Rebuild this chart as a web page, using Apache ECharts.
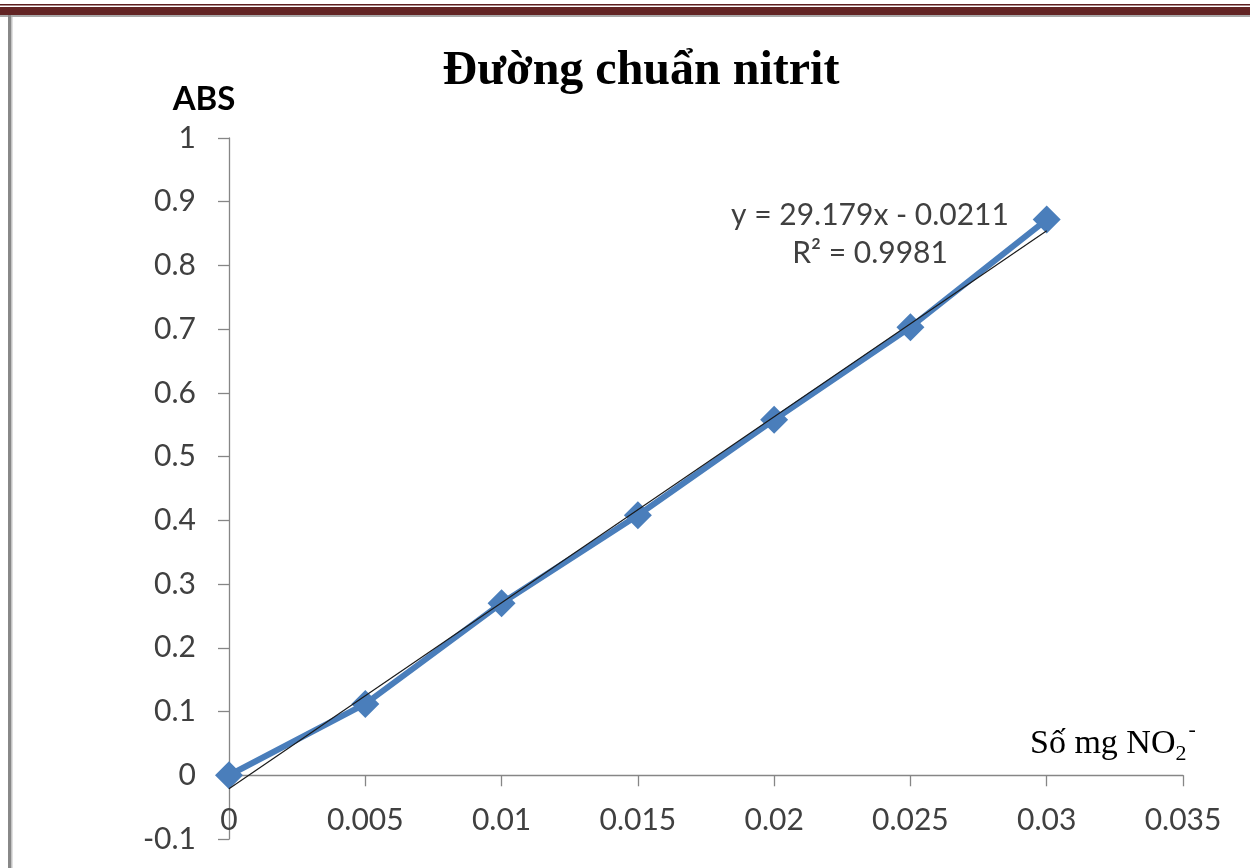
<!DOCTYPE html>
<html>
<head>
<meta charset="utf-8">
<script src="https://cdn.jsdelivr.net/npm/echarts@6/dist/echarts.min.js"></script>
<style>
  html, body { margin: 0; padding: 0; background: #fff; }
  #chart { width: 1250px; height: 868px; }
</style>
</head>
<body>
<div id="chart"></div>
<script>
// Nitrite calibration curve: absorbance vs. mg of NO2-
const massNO2 = [0, 0.005, 0.01, 0.015, 0.02, 0.025, 0.03];
const absorbance = [0, 0.112, 0.27, 0.408, 0.558, 0.703, 0.872];

// Linear fit stated on the chart
const fitSlope = 29.179;
const fitIntercept = -0.0211;
const fitR2 = 0.9981;
const fitRange = [0, 0.03];

const xTicks = [0, 0.005, 0.01, 0.015, 0.02, 0.025, 0.03, 0.035];
const yTicks = [-0.1, 0, 0.1, 0.2, 0.3, 0.4, 0.5, 0.6, 0.7, 0.8, 0.9, 1];

const points = massNO2.map((x, i) => [x, absorbance[i]]);
const fitLine = fitRange.map(x => [x, fitSlope * x + fitIntercept]);

const labelFont = 'Lato, "Open Sans", sans-serif';
const serifFont = '"Liberation Serif", "Times New Roman", serif';
const axisGrey = '#868686';
const textGrey = '#404040';

const xMin = xTicks[0], xMax = xTicks[xTicks.length - 1];
const yMin = yTicks[0], yMax = yTicks[yTicks.length - 1];

const chart = echarts.init(document.getElementById('chart'));
chart.setOption({
  backgroundColor: '#ffffff',
  animation: false,
  title: {
    text: 'Đường chuẩn nitrit',
    left: 636,
    top: 43,
    textAlign: 'center',
    textStyle: {
      fontFamily: serifFont,
      fontWeight: 'bold',
      fontSize: 48,
      color: '#000'
    }
  },
  grid: { left: 229, right: 67, top: 138, bottom: 29, containLabel: false, outerBoundsMode: 'none' },
  xAxis: [
    {
      // axis line and ticks crossing at y = 0
      type: 'value',
      position: 'bottom',
      min: xMin,
      max: xMax,
      interval: 0.005,
      axisLine: { onZero: true, lineStyle: { color: axisGrey, width: 1.3 } },
      axisTick: { show: true, inside: false, length: 11, lineStyle: { color: axisGrey, width: 1.3 } },
      splitLine: { show: false },
      axisLabel: { show: false },
      name: '{n|Số mg NO}{sub|2}{sup|-}',
      nameLocation: 'end',
      nameGap: -153,
      nameTextStyle: {
        align: 'left',
        verticalAlign: 'bottom',
        padding: [0, 0, 14, 0],
        rich: {
          n: { fontFamily: serifFont, fontSize: 34, color: '#000', verticalAlign: 'bottom' },
          sub: { fontFamily: serifFont, fontSize: 22, color: '#000', verticalAlign: 'bottom', padding: [0, 0, -4, 0] },
          sup: { fontFamily: serifFont, fontSize: 22, color: '#000', verticalAlign: 'bottom', padding: [0, 0, 20, 2] }
        }
      }
    },
    {
      // tick labels sitting between 0 and -0.1
      type: 'value',
      position: 'bottom',
      min: xMin,
      max: xMax,
      interval: 0.005,
      axisLine: { show: false, onZero: false },
      axisTick: { show: false },
      splitLine: { show: false },
      axisLabel: {
        inside: true,
        margin: 4,
        fontFamily: labelFont,
        fontSize: 30,
        color: textGrey,
        formatter: v => String(+v.toFixed(3))
      }
    }
  ],
  yAxis: {
    type: 'value',
    min: yMin,
    max: yMax,
    interval: 0.1,
    axisLine: { show: true, onZero: false, lineStyle: { color: axisGrey, width: 1.3 } },
    axisTick: { show: true, inside: false, length: 11, lineStyle: { color: axisGrey, width: 1.3 } },
    splitLine: { show: false },
    axisLabel: {
      margin: 33,
      fontFamily: labelFont,
      fontSize: 30,
      color: textGrey,
      formatter: v => String(+v.toFixed(1))
    },
    name: 'ABS',
    nameLocation: 'end',
    nameGap: 22,
    nameTextStyle: {
      fontFamily: labelFont,
      fontWeight: 'bold',
      fontSize: 33,
      color: '#000',
      align: 'center',
      padding: [0, 50, 0, 0]
    }
  },
  series: [
    {
      type: 'line',
      name: 'ABS',
      data: points,
      symbol: 'diamond',
      symbolSize: 28,
      lineStyle: { color: '#4a7ebb', width: 6 },
      itemStyle: { color: '#4a7ebb' },
      z: 2
    },
    {
      type: 'line',
      name: 'Tuyến tính',
      data: fitLine,
      symbol: 'none',
      lineStyle: { color: '#1a1a1a', width: 1.2 },
      z: 3
    }
  ],
  graphic: [
    // page header band
    { type: 'rect', shape: { x: 0, y: 4, width: 1250, height: 1.5 }, style: { fill: '#5c1e1e' }, silent: true },
    { type: 'rect', shape: { x: 0, y: 7, width: 1250, height: 8 }, style: { fill: '#622424' }, silent: true },
    { type: 'rect', shape: { x: 0, y: 15, width: 1250, height: 2 }, style: { fill: '#a8a8a8' }, silent: true },
    // left frame edge
    { type: 'rect', shape: { x: 8, y: 15, width: 3, height: 853 }, style: { fill: '#888888' }, silent: true },
    { type: 'rect', shape: { x: 11, y: 17, width: 1.5, height: 851 }, style: { fill: '#c4c4c4' }, silent: true },
    // trendline equation
    {
      type: 'text',
      x: 870,
      y: 196,
      style: {
        text: 'y = ' + fitSlope + 'x - ' + Math.abs(fitIntercept) + '\nR² = ' + fitR2,
        fontFamily: labelFont,
        fontSize: 30,
        lineHeight: 38,
        fill: textGrey,
        align: 'center'
      }
    }
  ]
});
</script>
</body>
</html>
